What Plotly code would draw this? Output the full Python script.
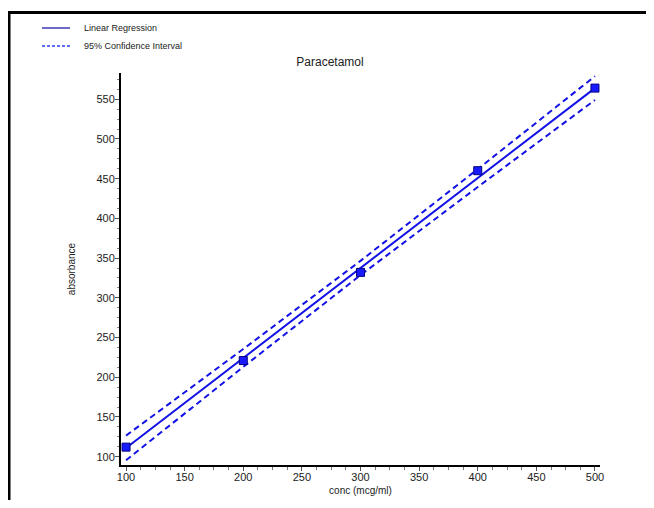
import plotly.graph_objects as go

# data
conc = [100, 200, 300, 400, 500]
absorbance = [112, 221, 332, 460, 564]

fit_x = [100, 500]
fit_y = [111, 564]

ci_x = [100, 200, 300, 400, 500]
ci_upper = [126.5, 235.5, 346.5, 462, 579]
ci_lower = [95.5, 213, 328.5, 439.5, 549]

legend_labels = ["Linear Regression", "95% Confidence Interval"]

OFF = 8  # page body margin
W, H = 654 - 2 * OFF, 508 - 2 * OFF
L, R, T, B = 121, 600, 73, 465  # plot area in page px


def px(x):
    return (x - L) / (R - L)


def py(y):
    return (B - y) / (B - T)


blue = "#1212e6"
font = "Liberation Sans, Arial, sans-serif"

fig = go.Figure()
fig.add_trace(go.Scatter(x=ci_x, y=ci_upper, mode="lines",
                         line=dict(color=blue, width=2, dash="6px,4px"),
                         showlegend=False, hoverinfo="skip"))
fig.add_trace(go.Scatter(x=ci_x, y=ci_lower, mode="lines",
                         line=dict(color=blue, width=2, dash="6px,4px"),
                         showlegend=False, hoverinfo="skip"))
fig.add_trace(go.Scatter(x=fit_x, y=fit_y, mode="lines",
                         line=dict(color=blue, width=2),
                         showlegend=False))
fig.add_trace(go.Scatter(x=conc, y=absorbance, mode="markers",
                         marker=dict(symbol="square", size=8, color="#1a1aff",
                                     line=dict(color="#000080", width=1)),
                         showlegend=False, cliponaxis=False))

shapes = [
    # outer frame (left and top)
    dict(type="line", xref="paper", yref="paper", x0=px(9), x1=px(9), y0=py(11), y1=py(520),
         line=dict(color="black", width=3)),
    dict(type="line", xref="paper", yref="paper", x0=px(8), x1=px(670), y0=py(12.5), y1=py(12.5),
         line=dict(color="black", width=3)),
    # legend samples
    dict(type="line", xref="paper", yref="paper", x0=px(42), x1=px(70), y0=py(28), y1=py(28),
         line=dict(color="#1c1ca8", width=1.3)),
    dict(type="line", xref="paper", yref="paper", x0=px(42), x1=px(70), y0=py(46), y1=py(46),
         line=dict(color="#2a3cff", width=1.3, dash="3px,2px")),
]

annotations = [
    dict(xref="paper", yref="paper", x=px(82), y=py(28), text=legend_labels[0],
         showarrow=False, xanchor="left", yanchor="middle",
         font=dict(family=font, size=9, color="#222")),
    dict(xref="paper", yref="paper", x=px(82), y=py(46), text=legend_labels[1],
         showarrow=False, xanchor="left", yanchor="middle",
         font=dict(family=font, size=9, color="#222")),
]

fig.update_layout(
    width=W, height=H,
    margin=dict(l=L - OFF, r=(654 - OFF) - R, t=T - OFF, b=(508 - OFF) - B, pad=0,
                autoexpand=False),
    paper_bgcolor="white", plot_bgcolor="white",
    showlegend=False,
    title=dict(text="Paracetamol", x=(330 - OFF) / W, xanchor="center",
               y=1 - (62 - OFF) / H, yanchor="middle",
               font=dict(family=font, size=12, color="#222")),
    shapes=shapes, annotations=annotations,
    font=dict(family=font, size=11, color="#222"),
)

fig.update_xaxes(
    range=[95.7, 504.3], showgrid=False, zeroline=False, automargin=False,
    showline=True, linecolor="black", linewidth=2,
    ticks="outside", ticklen=4, tickcolor="#555", tickwidth=1,
    ticklabelstandoff=-3,
    tickmode="array", tickvals=[100, 150, 200, 250, 300, 350, 400, 450, 500],
    minor=dict(dtick=12.5, tick0=100, ticks="outside", ticklen=3, tickcolor="#777", showgrid=False),
    tickfont=dict(family=font, size=11, color="#222"),
    title=dict(text="conc (mcg/ml)", standoff=5, font=dict(family=font, size=10, color="#222")),
)
fig.update_yaxes(
    range=[89.5, 583], showgrid=False, zeroline=False, automargin=False,
    showline=True, linecolor="black", linewidth=2,
    ticks="outside", ticklen=4, tickcolor="#555", tickwidth=1,
    ticklabelstandoff=-2,
    tickmode="array", tickvals=[100, 150, 200, 250, 300, 350, 400, 450, 500, 550],
    minor=dict(dtick=12.5, tick0=100, ticks="outside", ticklen=2, tickcolor="#888", showgrid=False),
    tickfont=dict(family=font, size=11, color="#222"),
    title=dict(text="absorbance", standoff=19, font=dict(family=font, size=10, color="#222")),
)

fig.write_html("out.html")
